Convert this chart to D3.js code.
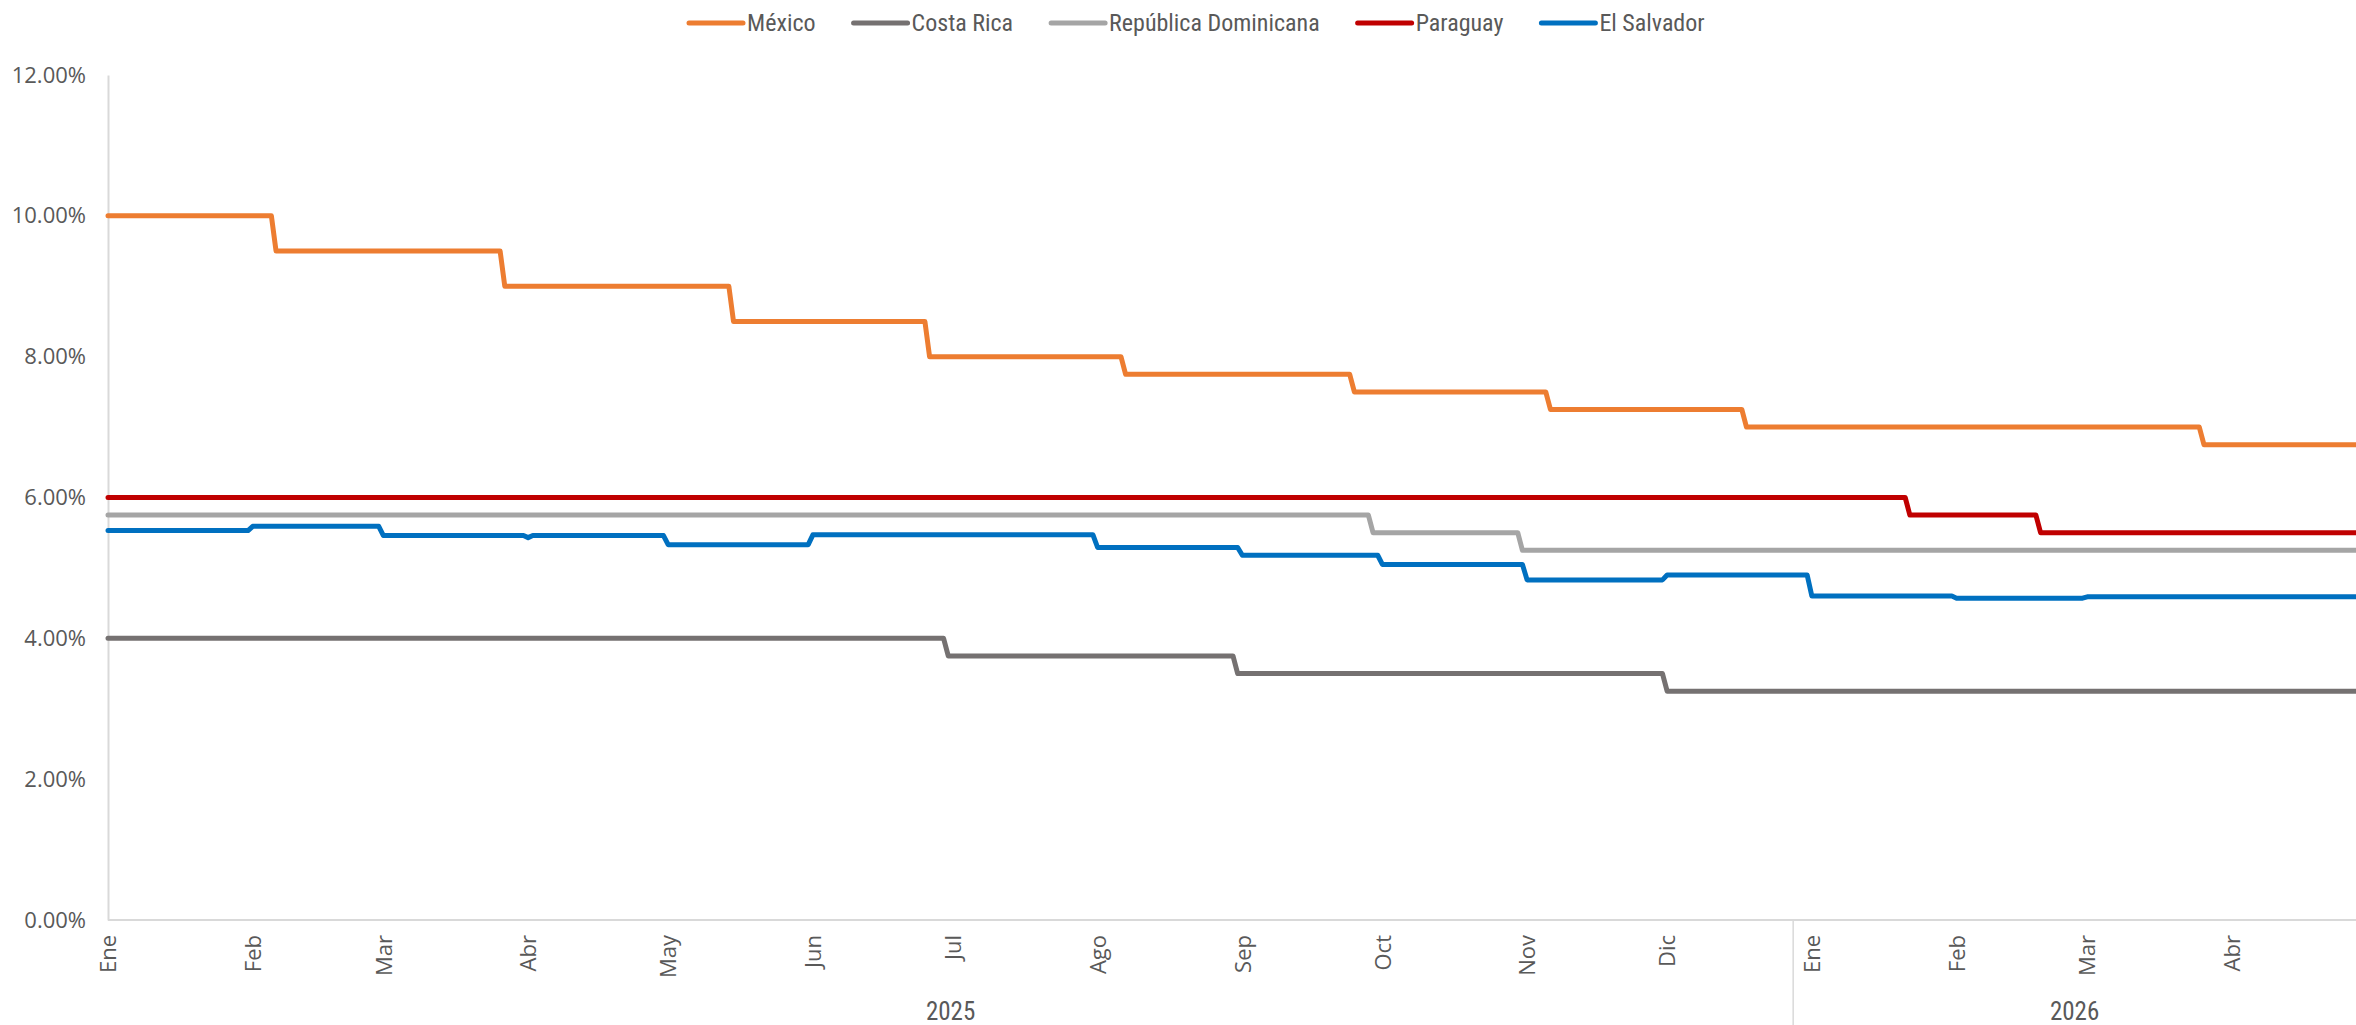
<!DOCTYPE html>
<html>
<head>
<meta charset="utf-8">
<script src="https://cdn.jsdelivr.net/npm/d3@7"></script>
<style>
  body { margin: 0; background: #ffffff; }
  svg { display: block; }
</style>
</head>
<body>
<svg id="chart" width="2356" height="1025"></svg>
<script>
// ---------------- DATA ----------------
const seriesNames  = ["México", "Costa Rica", "República Dominicana", "Paraguay", "El Salvador"];
const seriesColors = ["#ED7D31", "#757171", "#A5A5A5", "#C00000", "#0070C0"];

// Step changes: date on which the new rate takes effect, and the rate (%)
const mexicoDates   = ["2025-01-01","2025-02-06","2025-03-27","2025-05-15","2025-06-26","2025-08-07","2025-09-25","2025-11-06","2025-12-18","2026-03-26"];
const mexicoValues  = [10.0, 9.5, 9.0, 8.5, 8.0, 7.75, 7.5, 7.25, 7.0, 6.75];

const costaRicaDates  = ["2025-01-01","2025-06-30","2025-08-31","2025-12-01"];
const costaRicaValues = [4.0, 3.75, 3.5, 3.25];

const repDomDates  = ["2025-01-01","2025-09-29","2025-10-31"];
const repDomValues = [5.75, 5.5, 5.25];

const paraguayDates  = ["2025-01-01","2026-01-22","2026-02-19"];
const paraguayValues = [6.0, 5.75, 5.5];

const salvadorDates  = ["2025-01-01","2025-02-01","2025-03-01","2025-04-01","2025-04-02","2025-05-01","2025-06-01","2025-08-01","2025-09-01","2025-10-01","2025-11-01","2025-12-01","2026-01-01","2026-02-01","2026-03-01"];
const salvadorValues = [5.53, 5.59, 5.46, 5.43, 5.46, 5.33, 5.47, 5.29, 5.18, 5.05, 4.83, 4.90, 4.60, 4.57, 4.59];

const firstDate = "2025-01-01";
const lastDate  = "2026-04-28";

const yTickValues = [0, 2, 4, 6, 8, 10, 12];
const monthLabels = ["Ene","Feb","Mar","Abr","May","Jun","Jul","Ago","Sep","Oct","Nov","Dic"];
const yearLabels  = ["2025", "2026"];
const yearStarts  = ["2025-01-01", "2026-01-01"];

// ---------------- BUILD ----------------
const parse = d3.utcParse("%Y-%m-%d");
const DAY = 24 * 3600 * 1000;
const seriesDates  = [mexicoDates, costaRicaDates, repDomDates, paraguayDates, salvadorDates];
const seriesValues = [mexicoValues, costaRicaValues, repDomValues, paraguayValues, salvadorValues];

const start = parse(firstDate), end = parse(lastDate);

// vertices of each step line (daily series: a change happens between two consecutive days)
const series = seriesNames.map((name, i) => {
  const ds = seriesDates[i].map(parse), vs = seriesValues[i];
  const pts = [];
  ds.forEach((d, k) => {
    const segEnd = k < ds.length - 1 ? new Date(ds[k + 1].getTime() - DAY) : end;
    pts.push({ date: d, value: vs[k] });
    pts.push({ date: segEnd, value: vs[k] });
  });
  return { name, color: seriesColors[i], points: pts };
});

const svg = d3.select("#chart");
const W = 2356, H = 1025;
const plot = { left: 108, top: 75, bottom: 920, right: 2358 };

const x = d3.scaleUtc().domain([start, end]).range([plot.left, plot.right]);
const y = d3.scaleLinear().domain([0, 12]).range([plot.bottom, plot.top]);

const AXIS_COLOR = "#D9D9D9";
const TEXT_COLOR = "#595959";
const TICK_FONT = "'Open Sans', 'DejaVu Sans', sans-serif";
const NARROW_FONT = "'Liberation Sans Narrow', 'Roboto Condensed', sans-serif";

// Y axis
const yAxis = svg.append("g")
  .attr("transform", `translate(${plot.left},0)`)
  .call(d3.axisLeft(y).tickValues(yTickValues).tickSize(0).tickPadding(22)
    .tickFormat(d => d.toFixed(2) + "%"));
yAxis.select(".domain").attr("stroke", AXIS_COLOR).attr("stroke-width", 2);
yAxis.selectAll("text")
  .attr("fill", TEXT_COLOR)
  .style("font-family", TICK_FONT)
  .style("font-size", "22px");

// X axis (months)
const months = d3.utcMonth.range(start, new Date(end.getTime() + DAY));
const xAxis = svg.append("g")
  .attr("transform", `translate(0,${plot.bottom})`)
  .call(d3.axisBottom(x).tickValues(months).tickSize(0)
    .tickFormat(d => monthLabels[d.getUTCMonth()]));
xAxis.select(".domain").attr("stroke", AXIS_COLOR).attr("stroke-width", 2)
  .attr("d", `M${plot.left},0H${W}`);
xAxis.selectAll("text")
  .attr("transform", "rotate(-90)")
  .attr("text-anchor", "end")
  .attr("x", -15)
  .attr("y", 0)
  .attr("dy", "0.35em")
  .attr("fill", TEXT_COLOR)
  .style("font-family", TICK_FONT)
  .style("font-size", "22px");

// Year group separator and labels
const yStarts = yearStarts.map(parse);
const sepDate = new Date(yStarts[1].getTime() - 4 * DAY);
svg.append("line")
  .attr("x1", x(sepDate)).attr("x2", x(sepDate))
  .attr("y1", plot.bottom).attr("y2", H)
  .attr("stroke", AXIS_COLOR).attr("stroke-width", 1.5);
const groupBounds = [[plot.left, x(sepDate)], [x(sepDate), W]];
svg.selectAll(".year").data(yearLabels).join("text")
  .attr("class", "year")
  .attr("x", (d, i) => (groupBounds[i][0] + groupBounds[i][1]) / 2)
  .attr("y", 1011)
  .attr("dy", "0.35em")
  .attr("text-anchor", "middle")
  .attr("fill", TEXT_COLOR)
  .style("font-family", NARROW_FONT)
  .style("font-size", "25px")
  .text(d => d);

// Lines
const line = d3.line().x(d => x(d.date)).y(d => y(d.value));
svg.append("g").selectAll("path").data(series).join("path")
  .attr("d", d => line(d.points))
  .attr("fill", "none")
  .attr("stroke", d => d.color)
  .attr("stroke-width", 5)
  .attr("stroke-linejoin", "round")
  .attr("stroke-linecap", "round");

// Legend
const legend = svg.append("g");
let lx = 689;
const legendY = 23;
series.forEach(s => {
  const g = legend.append("g");
  g.append("line")
    .attr("x1", lx).attr("x2", lx + 54)
    .attr("y1", legendY).attr("y2", legendY)
    .attr("stroke", s.color).attr("stroke-width", 5).attr("stroke-linecap", "round");
  const t = g.append("text")
    .attr("x", lx + 58).attr("y", legendY).attr("dy", "0.35em")
    .attr("fill", TEXT_COLOR)
    .style("font-family", NARROW_FONT).style("font-size", "24px")
    .text(s.name);
  lx += 58 + t.node().getComputedTextLength() + 38;
});
</script>
</body>
</html>
